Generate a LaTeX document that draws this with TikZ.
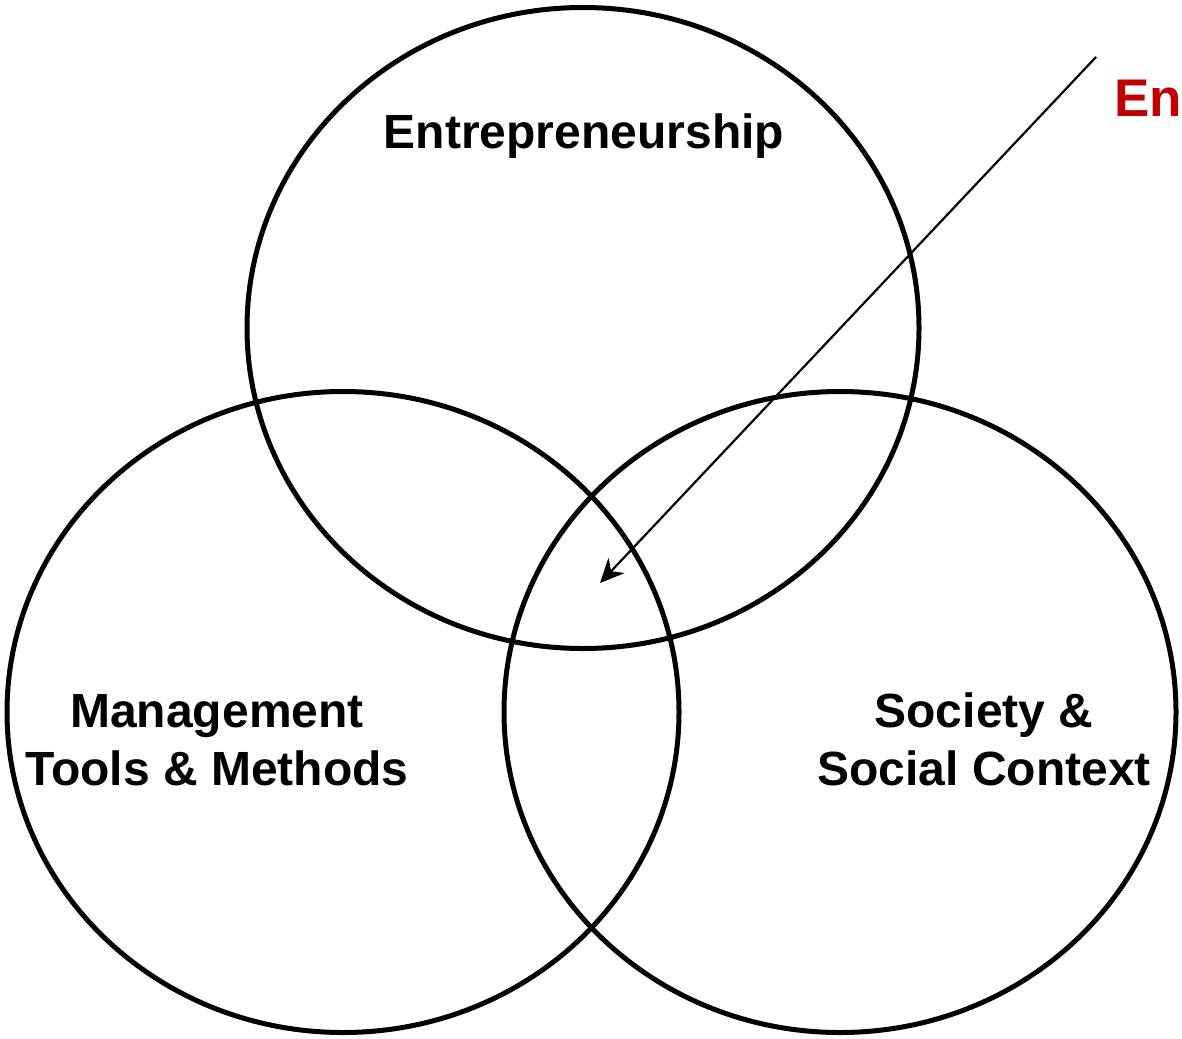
\documentclass[tikz,border=0pt]{standalone}
\usepackage{fontspec}
\setmainfont{Liberation Sans}
\usetikzlibrary{arrows.meta,shapes.geometric}
\definecolor{darkred}{RGB}{192,0,0}
\begin{document}
\begin{tikzpicture}[x=1pt,y=-1pt,
  setring/.style={draw=black,line width=5pt,ellipse,inner sep=0pt,outer sep=0pt,minimum width=672pt,minimum height=641pt},
  lbl/.style={font=\fontsize{48}{58}\selectfont\bfseries,align=center,inner sep=0pt},
  pointer/.style={line width=2.2pt,-{Stealth[length=24pt,width=22pt]}}]
\useasboundingbox (0,0) rectangle (1182,1038);
\begin{scope}
\clip (0,0) rectangle (1182,1038);
\node[setring] (top) at (583,328) {};
\node[setring] (left) at (343,712) {};
\node[setring] (right) at (840,712) {};
\node[lbl,anchor=base] (ent) at (584,148) {Entrepreneurship};
\node[lbl,anchor=base] (mgmt) at (217,785) {Management\\Tools \& Methods};
\node[lbl,anchor=base] (soc) at (984,785) {Society \&\\Social Context};
\node[font=\fontsize{53}{60}\selectfont\bfseries,text=darkred,anchor=base west,inner sep=0pt] (en) at (1114,117) {En};
\coordinate (src) at (1096,57);
\coordinate (dst) at (600,583);
\draw[pointer] (src) -- (dst);
\end{scope}
\end{tikzpicture}
\end{document}
